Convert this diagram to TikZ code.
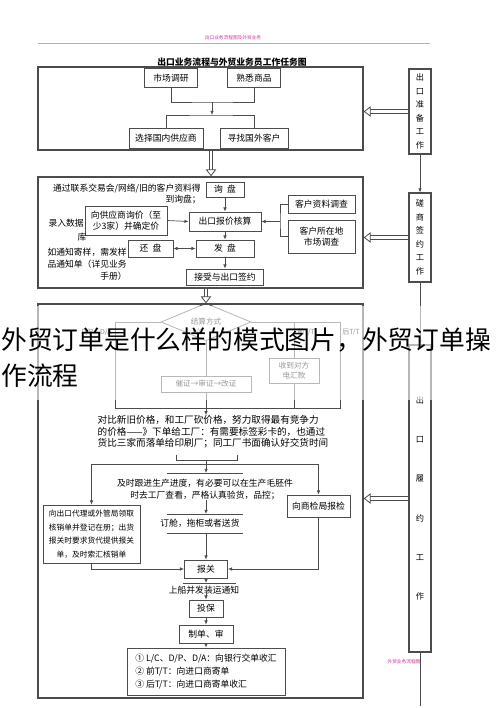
\documentclass[tikz,border=0pt]{standalone}
\usepackage{fontspec}
\setmainfont{Noto Sans CJK SC}
\usetikzlibrary{positioning, calc}
\usetikzlibrary{arrows.meta}
\usetikzlibrary{shapes,arrows}
\newlength\px
\setlength\px{0.3mm}
\definecolor{linegray}{gray}{0.3}
\definecolor{rosa}{RGB}{215,40,160}

\begin{document}
\begin{tikzpicture}[x=0.3mm,y=-0.3mm,->,>={Latex[length=3.5pt,width=3pt]},draw=linegray,line width=0.6pt,font=\fontsize{7.5}{9}\selectfont]
 	\tikzstyle{box}=[rectangle,draw=linegray,line width=0.7pt,inner sep=0pt,align=center,fill=white]
 	\tikzstyle{panel}=[rectangle,draw=linegray,line width=1.1pt,inner sep=0pt]
 	\tikzstyle{vbox}=[box,line width=0.9pt,font=\fontsize{7}{11.5}\selectfont]
 	\tikzstyle{note}=[inner sep=0pt,font=\fontsize{7.5}{10}\selectfont]
 	\tikzstyle{hollow}=[-{Triangle[open,length=6pt,width=9pt,line width=0.7pt]},double=white,double distance=2.4pt,line width=0.7pt]
 	\tikzstyle{tag}=[inner sep=0pt,text=rosa,font=\fontsize{4}{5}\selectfont]
 	\useasboundingbox (0,0) rectangle (500,708);

 	% head
 	\draw[-,gray!60,line width=0.5pt] (38,43) -- (430,43);
 	\node[tag] (head-tag) at (233,38) {出口业务流程图及外贸业务};
 	\node[font=\bfseries\fontsize{7.5}{9}\selectfont] (title) at (232,62) {出口业务流程与外贸业务员工作任务图};
 	\coordinate (mid) at (211,0);
 	\coordinate (mid-b) at (206,0);

 	% preparation
 	\node[panel,minimum width=325\px,minimum height=83\px] (p1) at (200.5,108.5) {};
 	\node[box,minimum width=53\px,minimum height=19\px] (scdy) at (171,78) {市场调研};
 	\node[box,minimum width=53\px,minimum height=19\px] (sxsp) at (254,78) {熟悉商品};
 	\node[box,minimum width=74\px,minimum height=20\px] (gngys) at (166,138) {选择国内供应商};
 	\node[box,minimum width=68\px,minimum height=20\px] (gwkh) at (254,138) {寻找国外客户};
 	\coordinate (j1) at (212,102);
 	\coordinate (j2) at (212,115);
 	\draw[-] (scdy.south) |- (j1) -| (sxsp.south);
 	\draw (j1) -- (j2);
 	\draw[-] (gngys.north) |- (j2) -| (gwkh.north);

 	% right column
 	\node[vbox,minimum width=22\px,minimum height=85\px] (zbgz) at (420,111.5) {出\\口\\准\\备\\工\\作};
 	\node[vbox,minimum width=22\px,minimum height=89\px] (cqgz) at (420,237.5) {磋\\商\\签\\约\\工\\作};
 	\node[vbox,minimum width=22\px,minimum height=307\px,font=\fontsize{7}{33.5}\selectfont] (lygz) at (420,498.5) {出\\口\\履\\约\\工\\作};
 	\coordinate (lyend) at (420,706);
 	\draw (zbgz) -- (cqgz);
 	\draw (cqgz) -- (lygz);
 	\draw[-] (lygz) -- (lyend);

 	% negotiation
 	\node[panel,minimum width=325\px,minimum height=111\px] (p2) at (200.5,232.5) {};
 	\node[box,minimum width=38\px,minimum height=15\px] (xp) at (225,189.5) {询\enspace 盘};
 	\node[note,anchor=east,align=right] (xpnote) at (201,194) {通过联系交易会/网络/旧的客户资料得\\到询盘；};
 	\node[box,minimum width=72\px,minimum height=19\px] (bjhs) at (225,221.5) {出口报价核算};
 	\node[box,minimum width=82\px,minimum height=29\px] (gyxj) at (126,220.5) {向供应商询价（至\\少3家）并确定价};
 	\node[box,minimum width=67\px,minimum height=18\px] (khzl) at (321.5,204) {客户资料调查};
 	\node[box,minimum width=67\px,minimum height=33\px] (khsc) at (321.5,236.5) {客户所在地\\市场调查};
 	\coordinate (kb) at (280,221.5);
 	\draw[-] (khzl.west) -| (kb) |- (khsc.west);
 	\draw (kb) -- (bjhs.east);
 	\draw (gyxj.east) -- (bjhs.west);
 	\draw (xp) -- (bjhs);
 	\node[box,minimum width=58\px,minimum height=17\px] (fp) at (225,248.5) {发\enspace 盘};
 	\node[box,minimum width=45\px,minimum height=17\px] (hp) at (150.5,248.5) {还\enspace 盘};
 	\draw (bjhs) -- (fp);
 	\draw[<->] (hp) -- (fp);
 	\node[box,minimum width=77\px,minimum height=16\px] (jsqy) at (225,277) {接受与出口签约};
 	\draw (fp) -- (jsqy);
 	\node[note,anchor=east] (sjk) at (84,223) {录入数据};
 	\node[note] (sjk-end) at (82,237) {库};
 	\node[note,anchor=east,align=right] (jynote) at (127,264) {如通知寄样，需发样\\品通知单（详见业务\\手册）};

 	% performance
 	\node[panel,minimum width=325\px,minimum height=394\px] (p3) at (200.5,501) {};
 	\node[diamond,draw=linegray,line width=0.7pt,minimum width=90\px,minimum height=28\px,inner sep=0pt,font=\fontsize{6.5}{8}\selectfont] (jsfs) at (206,322) {结算方式};
 	\coordinate (t1) at (115,322);
 	\coordinate (t4) at (340,322);
 	\coordinate (u1) at (115,408);
 	\coordinate (u4) at (340,408);
 	\draw[-] (jsfs.west) -- (t1) -- (u1) -- (u4) -- (t4) -- (jsfs.east);
 	\node[box,minimum width=90\px,minimum height=16\px,font=\fontsize{6.5}{8}\selectfont] (czsz) at (206,384) {催证→审证→改证};
 	\node[box,minimum width=50\px,minimum height=25\px,font=\fontsize{6.5}{8.5}\selectfont] (sdhk) at (294,371) {收到对方\\电汇款};
 	\draw[-] (jsfs.south) -- (czsz.north);
 	\draw[-] (czsz.south) -- (czsz.south |- u1);
 	\draw[-] (sdhk.north |- t1) -- (sdhk.north);
 	\draw[-] (sdhk.south) -- (sdhk.south |- u1);
 	\node[note,anchor=east,font=\fontsize{6}{7}\selectfont] (lb-dpda) at (112,332) {D/P、D/A};
 	\node[note,anchor=east,font=\fontsize{6}{7}\selectfont] (lb-lc) at (204,332) {L/C};
 	\node[note,anchor=west,font=\fontsize{6}{7}\selectfont] (lb-qtt) at (297,332) {前T/T};
 	\node[note,anchor=west,font=\fontsize{6}{7}\selectfont] (lb-htt) at (342,332) {后T/T};
 	\node[note,align=left,font=\fontsize{8.2}{9.8}\selectfont] (xd) at (213,432) {对比新旧价格，和工厂砍价格，努力取得最有竞争力\\的价格——》下单给工厂：有需要标签彩卡的，也通过\\货比三家而落单给印刷厂；同工厂书面确认好交货时间};
 	\draw (jsfs.south |- u1) -- (xd.north -| jsfs.south);
 	\draw[-] (176,455) -- (176,460) -- (237,460) -- (237,455);
 	\coordinate (m0) at (206,464);
 	\draw[-] (206,460) -- (m0);
 	\node[box,minimum width=97\px,minimum height=58\px,font=\fontsize{6.6}{11.5}\selectfont] (hxd) at (91.5,534) {向出口代理或外管局领取\\核销单并登记在册；出货\\报关时要求货代提供报关\\单，及时索汇核销单};
 	\node[box,minimum width=63\px,minimum height=22\px] (sjbj) at (318.5,506) {向商检局报检};
 	\draw[-] (hxd.north |- m0) -- (sjbj.north |- m0);
 	\draw (hxd.north |- m0) -- (hxd.north);
 	\draw (sjbj.north |- m0) -- (sjbj.north);
 	\coordinate (s1) at (206,473);
 	\draw (m0) -- (s1);
 	\draw[-] (167,473) -- (243,473);
 	\node[note,align=center] (gjsc) at (205,489.5) {及时跟进生产进度，有必要可以在生产毛胚件\\时去工厂查看，严格认真验货，品控；};
 	\coordinate (s2) at (206,514);
 	\draw (gjsc.south -| s2) -- (s2);
 	\draw[-] (167,514) -- (243,514);
 	\node[note] (dc) at (200,523.5) {订舱，拖柜或者送货};
 	\coordinate (s3) at (206,533);
 	\draw[-] (167,533) -- (243,533);
 	\node[box,minimum width=43\px,minimum height=18\px] (bg) at (206,569) {报关};
 	\draw (s3) -- (bg);
 	\draw (hxd.south) |- (bg.west);
 	\draw (sjbj.south) |- (bg.east);
 	\coordinate (s4) at (206,583);
 	\draw (bg) -- (s4);
 	\draw[-] (183,583) -- (236,583);
 	\node[note] (zytz) at (204,590) {上船并发装运通知};
 	\node[box,minimum width=34\px,minimum height=17\px] (tb) at (206,608.5) {投保};
 	\draw (zytz.south -| tb) -- (tb);
 	\node[box,minimum width=54\px,minimum height=18\px] (zd) at (206,634) {制单、审};
 	\draw (tb) -- (zd);
 	\node[box,minimum width=158\px,minimum height=47\px,align=left,font=\fontsize{7.5}{11}\selectfont] (sh) at (206,671.5) {① L/C、D/P、D/A：向银行交单收汇\\② 前T/T：向进口商寄单\\③ 后T/T：向进口商寄单收汇};
 	\draw (zd) -- (sh);

 	% panel links
 	\draw[hollow] (p1.south -| mid) -- (p2.north -| mid);
 	\draw[hollow] (p2.south -| mid-b) -- (p3.north -| mid-b);
 	\draw[hollow] (zbgz.west) -- (zbgz.west -| p1.east);
 	\draw[hollow] (cqgz.west) -- (cqgz.west -| p2.east);
 	\draw[hollow] (lygz.west) -- (lygz.west -| p3.east);

 	\node[tag] (foot-tag) at (404,662) {外贸业务流程图};

 	% caption band
 	\fill[white,opacity=0.6] (0,306) rectangle (500,400);
 	\node[anchor=north west,align=left,inner sep=0pt,font=\fontsize{22}{31}\selectfont] (caption) at (1,327) {外贸订单是什么样的模式图片，外贸订单操\\作流程};
\end{tikzpicture}
\end{document}
